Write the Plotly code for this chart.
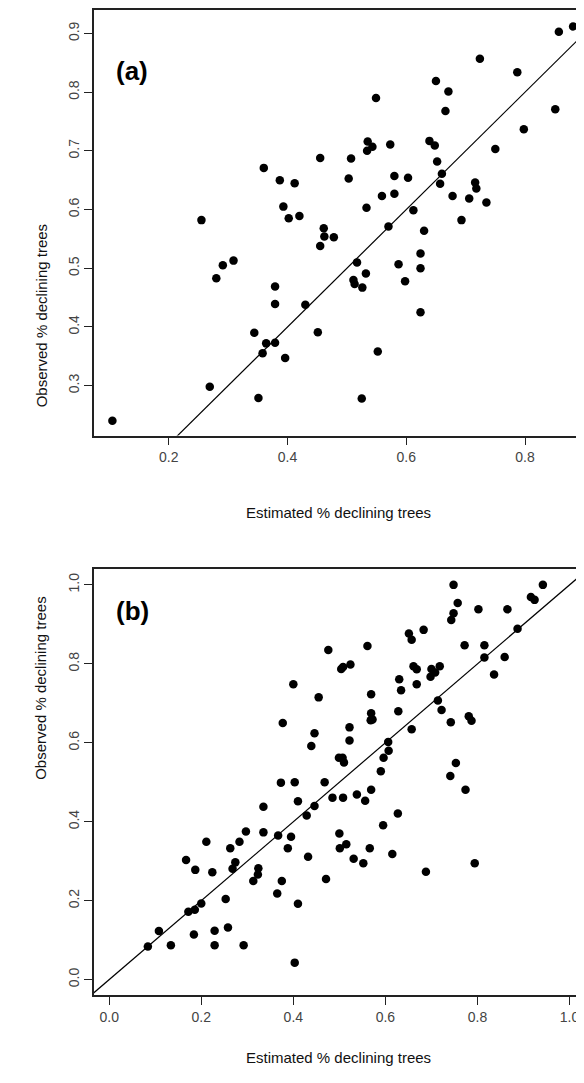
import plotly.graph_objects as go
from plotly.subplots import make_subplots

# panel (a) estimated vs observed
a_est = [0.255, 0.360, 0.387, 0.412, 0.455, 0.393, 0.402, 0.420, 0.461, 0.462, 0.478, 0.455,
         0.857, 0.881, 0.724, 0.787, 0.650, 0.671, 0.549, 0.666, 0.851, 0.798, 0.750, 0.535,
         0.543, 0.534, 0.573, 0.639, 0.648, 0.507, 0.503, 0.652, 0.580, 0.603, 0.660, 0.657,
         0.716, 0.718, 0.559, 0.580, 0.678, 0.706, 0.735, 0.533, 0.612, 0.693, 0.570, 0.630,
         0.624, 0.624, 0.587, 0.598, 0.517, 0.532, 0.511, 0.513, 0.526, 0.624, 0.552, 0.525,
         0.280, 0.291, 0.309, 0.379, 0.379, 0.430, 0.344, 0.364, 0.379, 0.358, 0.396, 0.451,
         0.269, 0.351, 0.105]
a_obs = [0.582, 0.671, 0.650, 0.645, 0.688, 0.605, 0.585, 0.589, 0.568, 0.554, 0.553, 0.538,
         0.903, 0.912, 0.857, 0.834, 0.819, 0.801, 0.790, 0.768, 0.771, 0.737, 0.703, 0.716,
         0.707, 0.700, 0.711, 0.717, 0.709, 0.687, 0.653, 0.682, 0.657, 0.654, 0.661, 0.644,
         0.646, 0.636, 0.623, 0.627, 0.623, 0.619, 0.612, 0.603, 0.599, 0.582, 0.571, 0.564,
         0.525, 0.500, 0.507, 0.478, 0.510, 0.491, 0.480, 0.473, 0.467, 0.425, 0.358, 0.278,
         0.483, 0.505, 0.513, 0.469, 0.439, 0.438, 0.390, 0.372, 0.373, 0.355, 0.347, 0.391,
         0.298, 0.279, 0.240]

# panel (b) estimated vs observed
b_est = [0.476, 0.400, 0.455, 0.377, 0.446, 0.439, 0.499, 0.373, 0.403, 0.468, 0.410, 0.446,
         0.485, 0.335, 0.429, 0.297, 0.335, 0.367, 0.395, 0.211, 0.283, 0.263, 0.388, 0.167,
         0.274, 0.268, 0.187, 0.224, 0.324, 0.323, 0.313, 0.432, 0.375, 0.471, 0.365, 0.253,
         0.410, 0.200, 0.172, 0.186, 0.108, 0.084, 0.134, 0.184, 0.229, 0.258, 0.229, 0.292,
         0.403, 0.504, 0.508, 0.524, 0.748, 0.942, 0.757, 0.748, 0.743, 0.802, 0.865, 0.916,
         0.924, 0.887, 0.683, 0.651, 0.657, 0.561, 0.772, 0.815, 0.815, 0.859, 0.836, 0.661,
         0.668, 0.700, 0.708, 0.718, 0.698, 0.630, 0.634, 0.668, 0.569, 0.569, 0.568, 0.572,
         0.628, 0.522, 0.522, 0.657, 0.714, 0.722, 0.742, 0.781, 0.787, 0.606, 0.607, 0.596,
         0.590, 0.507, 0.510, 0.753, 0.741, 0.774, 0.569, 0.538, 0.556, 0.508, 0.627, 0.595,
         0.500, 0.501, 0.515, 0.566, 0.531, 0.552, 0.615, 0.688, 0.794]
b_obs = [0.835, 0.748, 0.715, 0.650, 0.624, 0.592, 0.562, 0.499, 0.500, 0.500, 0.452, 0.440,
         0.461, 0.438, 0.416, 0.375, 0.373, 0.365, 0.362, 0.349, 0.349, 0.333, 0.333, 0.303,
         0.297, 0.281, 0.278, 0.272, 0.282, 0.266, 0.250, 0.311, 0.250, 0.255, 0.218, 0.204,
         0.192, 0.193, 0.172, 0.177, 0.123, 0.084, 0.087, 0.114, 0.124, 0.132, 0.087, 0.087,
         0.043, 0.787, 0.792, 0.798, 1.000, 1.000, 0.954, 0.928, 0.911, 0.938, 0.938, 0.969,
         0.962, 0.889, 0.886, 0.877, 0.861, 0.845, 0.847, 0.847, 0.816, 0.817, 0.773, 0.794,
         0.786, 0.787, 0.778, 0.794, 0.767, 0.761, 0.733, 0.748, 0.723, 0.675, 0.657, 0.659,
         0.680, 0.639, 0.606, 0.634, 0.707, 0.683, 0.652, 0.667, 0.656, 0.602, 0.580, 0.562,
         0.528, 0.562, 0.550, 0.549, 0.516, 0.481, 0.481, 0.469, 0.453, 0.461, 0.421, 0.391,
         0.370, 0.333, 0.343, 0.333, 0.306, 0.295, 0.318, 0.273, 0.295]

font = "Liberation Sans, Arial, sans-serif"

fig = make_subplots(rows=2, cols=1)
fig.add_trace(go.Scatter(x=a_est, y=a_obs, mode="markers",
                         marker=dict(color="black", size=8.5)), row=1, col=1)
fig.add_trace(go.Scatter(x=[0, 1], y=[0, 1], mode="lines",
                         line=dict(color="black", width=1.2)), row=1, col=1)
fig.add_trace(go.Scatter(x=b_est, y=b_obs, mode="markers",
                         marker=dict(color="black", size=8.5)), row=2, col=1)
fig.add_trace(go.Scatter(x=[-0.1, 1.1], y=[-0.1, 1.1], mode="lines",
                         line=dict(color="black", width=1.2)), row=2, col=1)

axis_style = dict(showgrid=False, zeroline=False, showline=True, mirror=True,
                  linecolor="#222", linewidth=1.5, ticks="outside", ticklen=8,
                  tickcolor="#222", tickfont=dict(family=font, size=14, color="#444"))

fig.update_xaxes(axis_style)
fig.update_yaxes(axis_style)
fig.update_yaxes(tickangle=-90)

fig.update_xaxes(range=[0.074, 0.896], tickvals=[0.2, 0.4, 0.6, 0.8],
                 ticktext=["0.2", "0.4", "0.6", "0.8"], domain=[0, 1], row=1, col=1)
fig.update_yaxes(range=[0.215, 0.94], tickvals=[0.3, 0.4, 0.5, 0.6, 0.7, 0.8, 0.9],
                 ticktext=["0.3", "0.4", "0.5", "0.6", "0.7", "0.8", "0.9"],
                 domain=[0.568, 1], row=1, col=1)
fig.update_xaxes(range=[-0.033, 1.027], tickvals=[0, 0.2, 0.4, 0.6, 0.8, 1.0],
                 ticktext=["0.0", "0.2", "0.4", "0.6", "0.8", "1.0"], domain=[0, 1], row=2, col=1)
fig.update_yaxes(range=[-0.039, 1.039], tickvals=[0, 0.2, 0.4, 0.6, 0.8, 1.0],
                 ticktext=["0.0", "0.2", "0.4", "0.6", "0.8", "1.0"],
                 domain=[0, 0.432], row=2, col=1)

title_font = dict(family=font, size=15, color="#111")
annotations = [
    dict(text="(a)", x=0.04, y=0.955, xref="paper", yref="paper", showarrow=False,
         font=dict(family=font, size=26, color="black"), xanchor="left"),
    dict(text="(b)", x=0.04, y=0.39, xref="paper", yref="paper", showarrow=False,
         font=dict(family=font, size=26, color="black"), xanchor="left"),
    dict(text="Estimated % declining trees", x=0.5, y=512, xref="paper", yref="paper",
         showarrow=False, font=title_font),
    dict(text="Estimated % declining trees", x=0.5, y=1068, xref="paper", yref="paper",
         showarrow=False, font=title_font),
]
# convert pixel y positions of x titles to paper coords
for ann in annotations[2:]:
    ann["y"] = (995 - ann["y"]) / 986.0
annotations += [
    dict(text="Observed % declining trees", x=-0.13, y=0.784, xref="paper", yref="paper",
         showarrow=False, textangle=-90, font=title_font),
    dict(text="Observed % declining trees", x=-0.13, y=0.216, xref="paper", yref="paper",
         showarrow=False, textangle=-90, font=title_font),
]
for ann in annotations:
    if ann["text"] in ("(a)", "(b)"):
        ann["font"]["weight"] = "bold"

# page body has an 8px margin, so the figure is sized to fit inside it
fig.update_layout(width=576, height=1075, showlegend=False,
                  plot_bgcolor="white", paper_bgcolor="white",
                  margin=dict(l=86, r=0, t=1, b=88),
                  annotations=annotations)

fig.write_html("out.html")
